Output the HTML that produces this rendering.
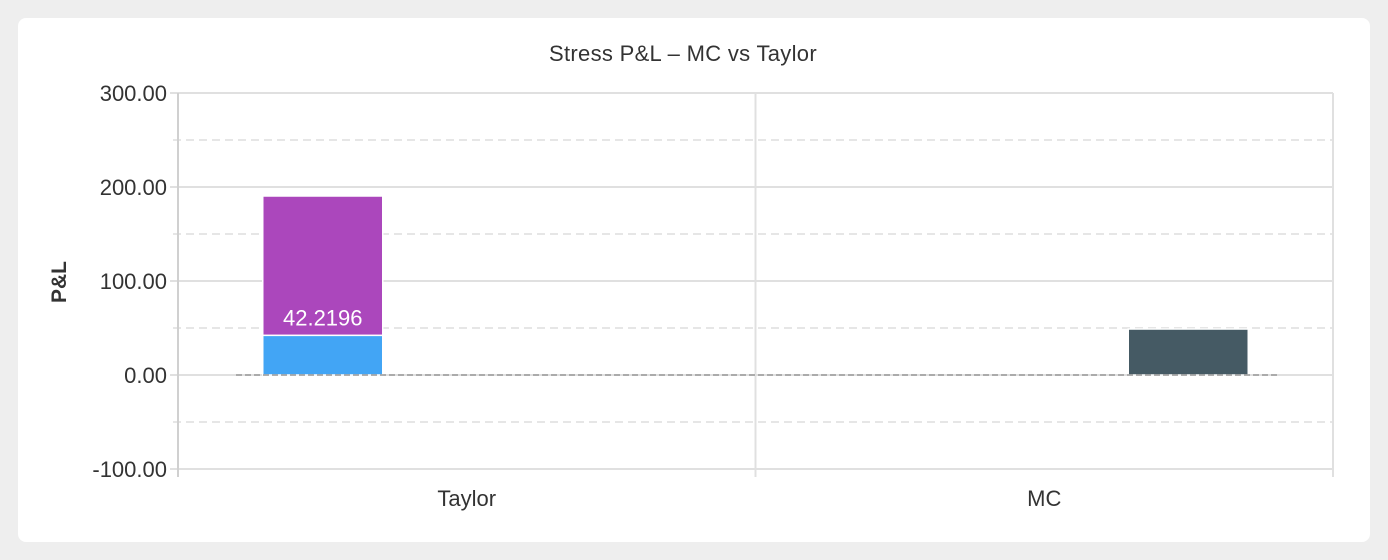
<!DOCTYPE html>
<html><head><meta charset="utf-8"><style>
body{margin:0;background:#eeeeee;width:1388px;height:560px;overflow:hidden;font-family:"Liberation Sans",sans-serif}
#card{position:absolute;left:18px;top:18px;width:1352px;height:524px;background:#fff;border-radius:8px}
svg{position:absolute;left:0;top:0}
</style></head><body>
<div id="card"></div>
<svg id="chart" width="1388" height="560">
<text x="683" y="61" text-anchor="middle" font-size="22" fill="#333" letter-spacing="0.3">Stress P&amp;L – MC vs Taylor</text>
<text transform="translate(66,282) rotate(-90)" text-anchor="middle" font-size="21" font-weight="bold" fill="#333">P&amp;L</text>
</svg>
<script>
const categories=["Taylor","MC"];
const taylorBase=[42.2196,0];
const taylorTop=[148.2,0];
const mcValues=[0,48.9];
const yTicks=[-100,0,100,200,300];
const ns="http://www.w3.org/2000/svg";
const svg=document.getElementById('chart');
const X0=178,X1=1333,Ytop=93,Ybot=469,yMin=-100,yMax=300;
const y=v=>Ybot-(v-yMin)/(yMax-yMin)*(Ybot-Ytop);
const band=(X1-X0)/categories.length;
function mk(t,a){const e=document.createElementNS(ns,t);for(const k in a)e.setAttribute(k,a[k]);svg.appendChild(e);return e;}
for(let i=0;i<yTicks.length-1;i++){
  const v=(yTicks[i]+yTicks[i+1])/2;
  const g=mk('line',{x1:173,x2:X1,y1:y(v),y2:y(v),stroke:'#ddd','stroke-dasharray':'8,5','stroke-width':1.5});
  
  
}
yTicks.forEach(v=>{
  const g=mk('line',{x1:170,x2:X1,y1:y(v),y2:y(v),stroke:'#e0e0e0','stroke-width':2});
  
  
  const t=mk('text',{x:167,y:y(v)+8,'text-anchor':'end','font-size':22,fill:'#333'});
  t.textContent=v.toFixed(2);
  
  
});
for(let i=0;i<=categories.length;i++){
  const x=X0+band*i;
  const l=mk('line',{x1:x,x2:x,y1:Ytop,y2:477,stroke:i==0?'#d0d0d0':'#e0e0e0','stroke-width':2});
  
  
}
categories.forEach((c,i)=>{
  const t=mk('text',{x:X0+band*(i+0.5),y:506,'text-anchor':'middle','font-size':22,fill:'#333'});
  t.textContent=c;
  
  
});
const bw=120;
function bar(cx,v0,v1,color,name){
  const r=mk('rect',{x:cx-bw/2,y:y(v1),width:bw,height:y(v0)-y(v1),fill:color,stroke:'#fff','stroke-width':1.5});
  
  
  return r;
}
categories.forEach((c,i)=>{
  const cc=X0+band*(i+0.5);
  const lx=cc-144, rx=cc+144;
  if(taylorBase[i]){bar(lx,0,taylorBase[i],'#42a5f5','bar-taylor-base');}
  if(taylorTop[i]){bar(lx,taylorBase[i],taylorBase[i]+taylorTop[i],'#ab47bc','bar-taylor-top');
    const t=mk('text',{x:lx,y:y(taylorBase[i])-10,'text-anchor':'middle','font-size':22,fill:'#fff'});
    t.textContent=taylorBase[i].toFixed(4);
    
    }
  if(mcValues[i]){bar(rx,0,mcValues[i],'#455a64','bar-mc');}
});
const z=mk('line',{x1:236,x2:1277,y1:y(0),y2:y(0),stroke:'#999','stroke-dasharray':'6,3','stroke-width':1.5});


</script>
</body></html>
